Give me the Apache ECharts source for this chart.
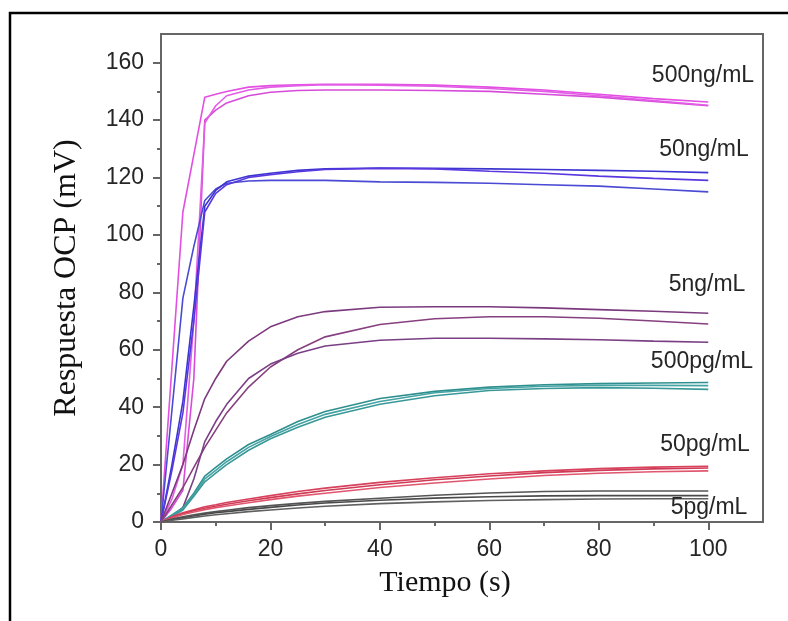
<!DOCTYPE html>
<html>
<head>
<meta charset="utf-8">
<script src="https://cdn.jsdelivr.net/npm/echarts@6/dist/echarts.min.js"></script>
<style>
html,body{margin:0;padding:0;background:#fff;}
#chart{width:788px;height:621px;}
</style>
</head>
<body>
<div id="chart"></div>
<script>
// ---- data ----
const time = [0, 2, 4, 6, 8, 10, 12, 16, 20, 25, 30, 40, 50, 60, 70, 80, 90, 100];

// 500 ng/mL
const ng500_a = [0, 54, 108, 128, 148, 149, 150, 151.5, 152, 152.3, 152.5, 152.5, 152.2, 151.5, 150.5, 149, 147.5, 146.3];
const ng500_b = [0, 5, 11, 50, 140, 143.5, 146, 148.5, 149.7, 150.3, 150.5, 150.5, 150.3, 150, 149, 148, 146.5, 145];
const ng500_c = [0, 8, 20, 70, 139, 145, 148.5, 150.5, 151.5, 152, 152.3, 152.2, 151.8, 151, 150, 148.5, 146.8, 145.2];
// 50 ng/mL
const ng50_a = [0, 39, 78, 96, 112, 116, 118, 118.8, 119, 119, 119, 118.5, 118.3, 118, 117.5, 117, 116, 115];
const ng50_b = [0, 20, 42, 75, 110, 115.5, 118.5, 120.5, 121.5, 122.5, 123, 123.3, 123.2, 123, 122.8, 122.5, 122.2, 121.7];
const ng50_c = [0, 18, 38, 70, 108, 114.5, 117.5, 120, 121, 122, 122.8, 123.2, 123, 122.2, 121.5, 120.5, 119.7, 119];
// 5 ng/mL
const ng5_a = [0, 10, 20, 32, 43, 50, 56, 63, 68, 71.5, 73.3, 74.8, 75, 75, 74.6, 74, 73.4, 72.7];
const ng5_b = [0, 6, 12, 19, 26, 32, 38, 47, 54, 60, 64.5, 68.8, 70.8, 71.5, 71.5, 71, 70, 69];
const ng5_c = [0, 2, 5, 15, 28, 35, 41, 50, 55, 58.8, 61.3, 63.3, 64, 64, 63.8, 63.5, 63, 62.6];
// 500 pg/mL
const pg500_a = [0, 2.5, 5, 10, 16, 19, 22, 27, 30.5, 35, 38.5, 43, 45.5, 47, 47.8, 48.2, 48.4, 48.6];
const pg500_b = [0, 2.3, 4.6, 9.5, 15, 18, 21, 26, 29.8, 34, 37.5, 42, 45, 46.5, 47.3, 47.6, 47.6, 47.5];
const pg500_c = [0, 2, 4.2, 9, 14, 17, 20, 25, 29, 33, 36.5, 41, 44, 45.8, 46.5, 46.8, 46.6, 46.2];
// 50 pg/mL
const pg50_a = [0, 1.8, 3.2, 4.3, 5.3, 6, 6.8, 8, 9.2, 10.6, 11.8, 13.8, 15.4, 16.8, 17.8, 18.6, 19.1, 19.4];
const pg50_b = [0, 1.6, 2.9, 3.9, 4.8, 5.5, 6.2, 7.4, 8.5, 9.8, 11, 13, 14.7, 16, 17.2, 18, 18.5, 18.8];
const pg50_c = [0, 1.4, 2.6, 3.5, 4.3, 5, 5.6, 6.7, 7.8, 9, 10, 12, 13.6, 15, 16.2, 17, 17.5, 17.8];
// 5 pg/mL
const pg5_a = [0, 1, 1.8, 2.5, 3.1, 3.6, 4.1, 5, 5.7, 6.5, 7.2, 8.3, 9.3, 10.1, 10.6, 10.8, 10.8, 10.8];
const pg5_b = [0, 0.8, 1.5, 2.1, 2.7, 3.2, 3.6, 4.4, 5.1, 5.9, 6.6, 7.6, 8.3, 8.8, 9.1, 9.2, 9.2, 9.2];
const pg5_c = [0, 0.6, 1.1, 1.6, 2.1, 2.5, 2.9, 3.6, 4.2, 4.9, 5.5, 6.4, 7, 7.5, 7.8, 8, 8.1, 8.1];

const groupNames = ['500ng/mL', '50ng/mL', '5ng/mL', '500pg/mL', '50pg/mL', '5pg/mL'];
const xTitle = 'Tiempo (s)';
const yTitle = 'Respuesta OCP (mV)';
const xTicks = [0, 20, 40, 60, 80, 100];
const xMinorTicks = [10, 30, 50, 70, 90];
const yTicks = [0, 20, 40, 60, 80, 100, 120, 140, 160];
const yMinorTicks = [10, 30, 50, 70, 90, 110, 130, 150];

// ---- build ----
const groups = [
  { name: groupNames[0], curves: [ng500_a, ng500_b, ng500_c], colors: ['#e24fe2', '#d64bd9', '#e35ce6'] },
  { name: groupNames[1], curves: [ng50_a, ng50_b, ng50_c], colors: ['#4a4ad4', '#3c36d0', '#5a38e0'] },
  { name: groupNames[2], curves: [ng5_a, ng5_b, ng5_c], colors: ['#7c3a7e', '#86407f', '#7a3f84'] },
  { name: groupNames[3], curves: [pg500_a, pg500_b, pg500_c], colors: ['#2f8f8f', '#45a3a3', '#3a9898'] },
  { name: groupNames[4], curves: [pg50_a, pg50_b, pg50_c], colors: ['#d8415c', '#cf3a55', '#e0566e'] },
  { name: groupNames[5], curves: [pg5_a, pg5_b, pg5_c], colors: ['#555555', '#4a4a4a', '#606060'] }
];

const series = [];
groups.forEach(g => {
  g.curves.forEach((vals, k) => {
    series.push({
      type: 'line',
      name: g.name + ' #' + (k + 1),
      data: time.map((t, i) => [t, vals[i]]),
      showSymbol: false,
      symbol: 'none',
      silent: true,
      lineStyle: { color: g.colors[k], width: 1.6 },
      xAxisIndex: 0,
      yAxisIndex: 0
    });
  });
});

const axisColor = '#666';
const labelFont = { fontFamily: 'Liberation Sans, Arial, sans-serif', fontSize: 23, color: '#262626' };

const chart = echarts.init(document.getElementById('chart'), null, { renderer: 'canvas' });

const gridL = 161, gridT = 34, gridR = 25, gridB = 99;

const annY = [76, 150, 285, 362, 445, 508];
const annX = [703, 704, 707, 702, 705, 709];

chart.setOption({
  animation: false,
  backgroundColor: '#fff',
  grid: {
    left: gridL, top: gridT, right: gridR, bottom: gridB,
    show: true, borderColor: axisColor, borderWidth: 2, backgroundColor: 'transparent'
  },
  xAxis: [
    {
      type: 'value', min: 0, max: 110, interval: 20,
      axisLine: { show: true, lineStyle: { color: axisColor, width: 2 } },
      axisTick: { show: true, inside: false, length: 8, lineStyle: { color: axisColor, width: 2 }, customValues: xTicks },
      axisLabel: Object.assign({ margin: 16, customValues: xTicks }, labelFont),
      splitLine: { show: false }
    },
    {
      type: 'value', min: 0, max: 110, position: 'bottom',
      axisLine: { show: false },
      axisTick: { show: true, inside: false, length: 4, lineStyle: { color: axisColor, width: 2 }, customValues: xMinorTicks },
      axisLabel: { show: false },
      splitLine: { show: false }
    }
  ],
  yAxis: [
    {
      type: 'value', min: 0, max: 170, interval: 20,
      axisLine: { show: true, lineStyle: { color: axisColor, width: 2 } },
      axisTick: { show: true, inside: false, length: 8, lineStyle: { color: axisColor, width: 2 }, customValues: yTicks },
      axisLabel: Object.assign({ margin: 17, customValues: yTicks }, labelFont),
      splitLine: { show: false }
    },
    {
      type: 'value', min: 0, max: 170, position: 'left',
      axisLine: { show: false },
      axisTick: { show: true, inside: false, length: 4, lineStyle: { color: axisColor, width: 2 }, customValues: yMinorTicks },
      axisLabel: { show: false },
      splitLine: { show: false }
    }
  ],
  series: series,
  graphic: [
    {
      type: 'rect', silent: true, z: 100,
      shape: { x: 10, y: 13, width: 800, height: 700 },
      style: { fill: 'none', stroke: '#000', lineWidth: 2.5 }
    },
    {
      type: 'text', silent: true, z: 100, x: 445, y: 583,
      style: { text: xTitle, fill: '#111', font: '30px "Liberation Serif", "Times New Roman", serif', textAlign: 'center', textVerticalAlign: 'middle' }
    },
    {
      type: 'text', silent: true, z: 100, x: 67, y: 278, rotation: Math.PI / 2,
      style: { text: yTitle, fill: '#111', font: '32px "Liberation Serif", "Times New Roman", serif', textAlign: 'center', textVerticalAlign: 'middle' }
    }
  ].concat(groupNames.map((n, i) => ({
    type: 'text', silent: true, z: 100,
    x: annX[i], y: annY[i],
    style: {
      text: n, fill: '#262626',
      font: '23px "Liberation Sans", Arial, sans-serif',
      textAlign: 'center', textVerticalAlign: 'middle'
    }
  })))
});
</script>
</body>
</html>
